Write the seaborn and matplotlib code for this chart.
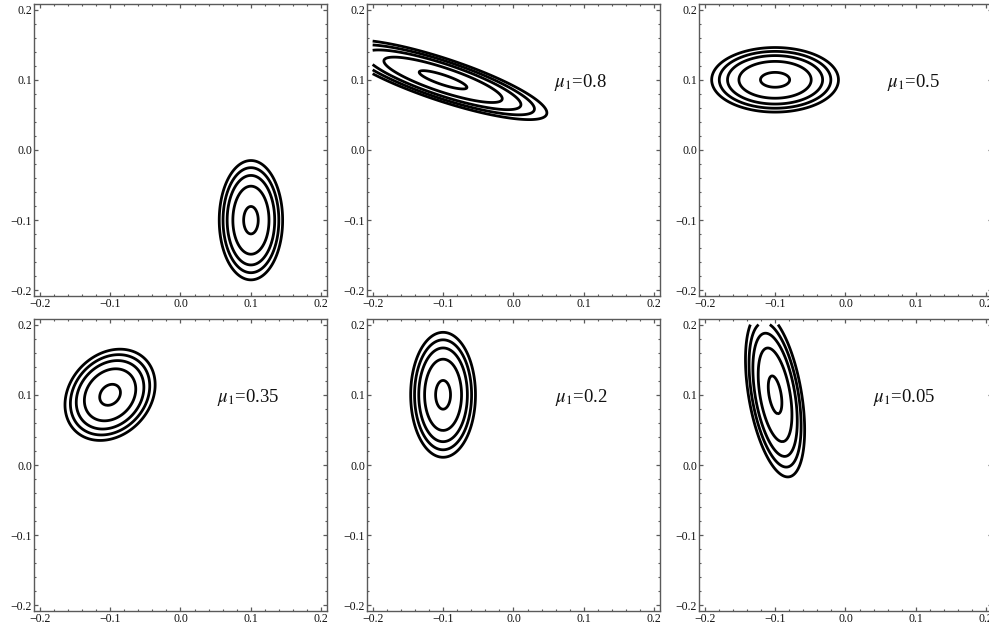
import numpy as np
import matplotlib as mpl
import matplotlib.pyplot as plt
import matplotlib.ticker as mticker
import seaborn as sns

# ellipse parameters per panel (centre, spread of outer contour, correlation)
center_x = [0.1, -0.1, -0.1, -0.1, -0.1, -0.1]
center_y = [-0.1, 0.1, 0.1, 0.1, 0.1, 0.1]
spread_x = [0.045, 0.1474, 0.090, 0.064, 0.046, 0.042]
spread_y = [0.085, 0.0567, 0.046, 0.065, 0.089, 0.117]
corr = [0.0, -0.83, 0.0, 0.22, 0.0, -0.43]
mu_labels = [None, '0.8', '0.5', '0.35', '0.2', '0.05']
# contour radii relative to the outer one
contour_levels = [0.23, 0.57, 0.75, 0.88, 1.0]
tick_values = [-0.2, -0.1, 0.0, 0.1, 0.2]


def set_graph_configs(fs=8.5):
    sns.set_theme(style='ticks')
    mpl.rcParams['font.family'] = ['Liberation Serif', 'DejaVu Serif']
    mpl.rcParams['mathtext.fontset'] = 'stix'
    mpl.rcParams['font.size'] = fs
    mpl.rcParams['axes.edgecolor'] = '#5a5a5a'
    mpl.rcParams['axes.linewidth'] = 1.0
    mpl.rcParams['xtick.color'] = '#5a5a5a'
    mpl.rcParams['ytick.color'] = '#5a5a5a'
    mpl.rcParams['xtick.labelcolor'] = '#111111'
    mpl.rcParams['ytick.labelcolor'] = '#111111'


def fmt(v, pos):
    s = '{:.1f}'.format(v)
    if s == '-0.0':
        s = '0.0'
    return s.replace('-', '\u2212')


set_graph_configs()

fig = plt.figure(figsize=(9.89, 6.35), dpi=100)
W, H = 989, 635
col_left = [34, 367, 699]
row_top = [4, 319]
aw, ah = 293, 292

grid = np.linspace(-0.2, 0.2, 601)
X, Y = np.meshgrid(grid, grid)

label_x = [0.0, 0.096, 0.097, 0.096, 0.096, 0.083]

for i in range(6):
    r, c = divmod(i, 3)
    ax = fig.add_axes([col_left[c] / W, (H - row_top[r] - ah) / H, aw / W, ah / H])

    sx, sy, rho = spread_x[i], spread_y[i], corr[i]
    dx = X - center_x[i]
    dy = Y - center_y[i]
    q = (dx**2 / sx**2 - 2 * rho * dx * dy / (sx * sy) + dy**2 / sy**2) / (1 - rho**2)
    d = np.sqrt(q)
    ax.contour(X, Y, d, levels=contour_levels, colors='black', linewidths=2.0)

    ax.set_xlim(-0.208, 0.208)
    ax.set_ylim(-0.208, 0.208)
    ax.set_xticks(tick_values)
    ax.set_yticks(tick_values)
    ax.xaxis.set_minor_locator(mticker.MultipleLocator(0.02))
    ax.yaxis.set_minor_locator(mticker.MultipleLocator(0.02))
    ax.xaxis.set_major_formatter(mticker.FuncFormatter(fmt))
    ax.yaxis.set_major_formatter(mticker.FuncFormatter(fmt))
    ax.tick_params(which='both', direction='in', top=True, right=True, labelsize=8.5)
    ax.tick_params(which='major', length=3.2, width=0.9, pad=1.5)
    ax.tick_params(which='minor', length=1.7, width=0.8)

    if mu_labels[i] is not None:
        ax.text(label_x[i], 0.0895, r'$\mu_1$=' + mu_labels[i], fontsize=13.5,
                ha='center', va='baseline', color='#111111')

fig.savefig('out.png', dpi=100)
